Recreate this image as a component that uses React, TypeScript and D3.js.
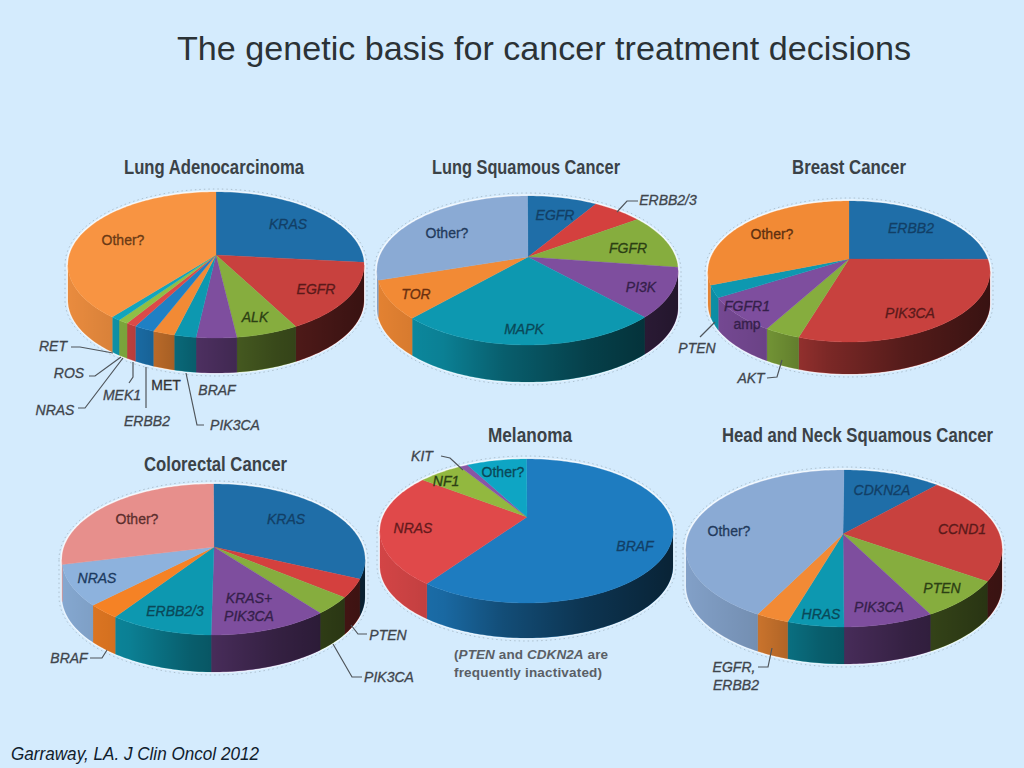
import React from 'react';
import * as d3 from 'd3';

// values, share of each pie in percent, clockwise from 12 o'clock
const adenoNames = ['KRAS', 'EGFR', 'ALK', 'BRAF', 'PIK3CA', 'MET', 'ERBB2', 'MEK1', 'NRAS/ROS', 'RET', 'Other?'];
const adenoValues = [24.4, 16.5, 6.8, 4.4, 2.4, 2.4, 2.2, 1.1, 1.1, 1.0, 37.6];
const squamousNames = ['EGFR', 'ERBB2/3', 'FGFR', 'PI3K', 'MAPK', 'TOR', 'Other?'];
const squamousValues = [7.5, 5.5, 11.3, 11.5, 28.1, 9.0, 27.1];
const breastNames = ['ERBB2', 'PIK3CA', 'AKT', 'FGFR1 amp', 'PTEN', 'Other?'];
const breastValues = [22.2, 33.6, 4.1, 9.0, 3.0, 28.1];
const colorectalNames = ['KRAS', 'PTEN', 'PIK3CA', 'KRAS+PIK3CA', 'ERBB2/3', 'BRAF', 'NRAS', 'Other?'];
const colorectalValues = [29.2, 4.2, 4.2, 12.7, 11.0, 3.4, 9.3, 26.1];
const melanomaNames = ['BRAF', 'NRAS', 'NF1', 'KIT', 'Other?'];
const melanomaValues = [61.9, 25.6, 5.0, 0.9, 6.6];
const headNeckNames = ['CDKN2A', 'CCND1', 'PTEN', 'PIK3CA', 'HRAS', 'EGFR, ERBB2', 'Other?'];
const headNeckValues = [10.0, 21.9, 8.9, 9.2, 5.8, 3.4, 40.8];

const BLUE = '#1f6ea8';
const RED = '#c8413e';
const GREEN = '#86ad3e';
const PURPLE = '#7e4e9e';
const TEAL = '#0d98b0';
const ORANGE = '#f28a35';
const SKY = '#8aaad4';

const adenoColors = [BLUE, RED, GREEN, PURPLE, TEAL, ORANGE, '#1f80c4', '#dc4a48', '#8fbf45', '#12a5bd', '#f89442'];
const squamousColors = [BLUE, '#d4403e', GREEN, PURPLE, TEAL, ORANGE, SKY];
const breastColors = [BLUE, RED, GREEN, PURPLE, TEAL, ORANGE];
const colorectalColors = [BLUE, '#d4403e', GREEN, PURPLE, TEAL, '#f58225', '#8db2dd', '#e78f8c'];
const melanomaColors = ['#1e7cc0', '#e0494a', '#92b83f', '#8a55a5', '#0ea5c4'];
const headNeckColors = [BLUE, RED, GREEN, PURPLE, TEAL, ORANGE, SKY];

type Geom = { cx: number; cy: number; rx: number; ry: number; ax: number; ay: number; depth: number };
type Label = { text: string; x: number; y: number; color?: string; upright?: boolean };
type Pt = [number, number];

const adenoGeom: Geom = { cx: 216, cy: 265, rx: 148, ry: 73, ax: 216, ay: 255, depth: 35 };
const squamousGeom: Geom = { cx: 527.5, cy: 270.5, rx: 150.5, ry: 74.5, ax: 528, ay: 257, depth: 37 };
const breastGeom: Geom = { cx: 849, cy: 271.5, rx: 141, ry: 70.5, ax: 849, ay: 259, depth: 32 };
const colorectalGeom: Geom = { cx: 213.5, cy: 559.5, rx: 151.5, ry: 75.5, ax: 214, ay: 547, depth: 37 };
const melanomaGeom: Geom = { cx: 526.5, cy: 531, rx: 146.5, ry: 72, ax: 527, ay: 517, depth: 35 };
const headNeckGeom: Geom = { cx: 844, cy: 548.5, rx: 158, ry: 78.5, ax: 843, ay: 534, depth: 37 };

const OUTER = '#3f454c';

const adenoLabels: Label[] = [
  { text: 'KRAS', x: 288, y: 224, color: '#123f66' },
  { text: 'EGFR', x: 316, y: 289, color: '#5a1a1a' },
  { text: 'ALK', x: 255, y: 317, color: '#2c3f14' },
  { text: 'Other?', x: 123, y: 240, color: '#6a3a15', upright: true },
  { text: 'RET', x: 53, y: 346 },
  { text: 'ROS', x: 69, y: 373 },
  { text: 'NRAS', x: 55, y: 410 },
  { text: 'MEK1', x: 122, y: 395 },
  { text: 'MET', x: 166, y: 385, color: '#333', upright: true },
  { text: 'BRAF', x: 217, y: 390 },
  { text: 'ERBB2', x: 147, y: 421 },
  { text: 'PIK3CA', x: 235, y: 425 },
];
const squamousLabels: Label[] = [
  { text: 'EGFR', x: 555, y: 215, color: '#123f66' },
  { text: 'ERBB2/3', x: 668, y: 200 },
  { text: 'FGFR', x: 628, y: 248, color: '#2c3f14' },
  { text: 'PI3K', x: 641, y: 287, color: '#35204a' },
  { text: 'MAPK', x: 524, y: 329, color: '#0a4858' },
  { text: 'TOR', x: 416, y: 294, color: '#6a3010' },
  { text: 'Other?', x: 447, y: 233, color: '#223a5c', upright: true },
];
const breastLabels: Label[] = [
  { text: 'ERBB2', x: 911, y: 228, color: '#123f66' },
  { text: 'PIK3CA', x: 910, y: 313, color: '#5a1a1a' },
  { text: 'FGFR1', x: 747, y: 306, color: '#35204a' },
  { text: 'amp', x: 747, y: 324, color: '#35204a', upright: true },
  { text: 'PTEN', x: 697, y: 348 },
  { text: 'AKT', x: 751, y: 378 },
  { text: 'Other?', x: 772, y: 234, color: '#5e3010', upright: true },
];
const colorectalLabels: Label[] = [
  { text: 'KRAS', x: 286, y: 519, color: '#123f66' },
  { text: 'Other?', x: 137, y: 519, color: '#5c2e2c', upright: true },
  { text: 'NRAS', x: 97, y: 578, color: '#1c3a60' },
  { text: 'ERBB2/3', x: 175, y: 611, color: '#0a4858' },
  { text: 'KRAS+', x: 249, y: 598, color: '#35204a' },
  { text: 'PIK3CA', x: 249, y: 616, color: '#35204a' },
  { text: 'BRAF', x: 69, y: 658 },
  { text: 'PTEN', x: 388, y: 635 },
  { text: 'PIK3CA', x: 389, y: 677 },
];
const melanomaLabels: Label[] = [
  { text: 'BRAF', x: 635, y: 546, color: '#123f66' },
  { text: 'NRAS', x: 413, y: 528, color: '#641a1c' },
  { text: 'NF1', x: 446, y: 481, color: '#2c3f14' },
  { text: 'Other?', x: 503, y: 472, color: '#0a4858', upright: true },
  { text: 'KIT', x: 422, y: 456 },
];
const headNeckLabels: Label[] = [
  { text: 'CDKN2A', x: 882, y: 490, color: '#123f66' },
  { text: 'CCND1', x: 962, y: 529, color: '#5a1a1a' },
  { text: 'PTEN', x: 942, y: 588, color: '#2c3f14' },
  { text: 'PIK3CA', x: 879, y: 607, color: '#35204a' },
  { text: 'HRAS', x: 821, y: 614, color: '#0a4858' },
  { text: 'Other?', x: 729, y: 531, color: '#223a5c', upright: true },
  { text: 'EGFR,', x: 734, y: 667 },
  { text: 'ERBB2', x: 736, y: 685 },
];

const adenoLeaders: Pt[][] = [
  [[71, 347], [80, 347], [113, 353]],
  [[89, 376], [95, 376], [121, 357]],
  [[78, 408], [85, 408], [123, 358]],
  [[129, 383], [133, 377], [133, 362]],
  [[146, 408], [146, 367]],
  [[204, 425], [197, 425], [186, 373]],
];
const squamousLeaders: Pt[][] = [[[617, 212], [627, 201], [638, 201]]];
const breastLeaders: Pt[][] = [
  [[700, 337], [715, 322]],
  [[767, 378], [777, 377], [782, 360]],
];
const colorectalLeaders: Pt[][] = [
  [[90, 658], [102, 658], [107, 650]],
  [[367, 634], [358, 634], [351, 625]],
  [[362, 677], [352, 677], [333, 644]],
];
const melanomaLeaders: Pt[][] = [[[441, 456], [450, 458], [463, 470]]];
const headNeckLeaders: Pt[][] = [[[758, 667], [768, 667], [772, 648]]];

const pieLayout = d3.pie<number>().sort(null).value(d => d);
const toPath = d3.line();

function rim(g: Geom, a0: number, a1: number, dy = 0): Pt[] {
  const n = Math.max(2, Math.ceil((a1 - a0) / 0.02));
  return d3.range(n + 1).map(i => {
    const t = a0 + ((a1 - a0) * i) / n;
    return [g.cx + g.rx * Math.sin(t), g.cy - g.ry * Math.cos(t) + dy] as Pt;
  });
}

function wallPath(g: Geom, a0: number, a1: number) {
  const from = Math.max(a0, Math.PI / 2);
  const to = Math.min(a1, (3 * Math.PI) / 2);
  if (from >= to) return null;
  return toPath([...rim(g, from, to), ...rim(g, from, to, g.depth).reverse()]) + 'Z';
}

// the scan leaves a pale fringe with grey specks round every pie
function fringePath(g: Geom) {
  const wide = { ...g, rx: g.rx + 3, ry: g.ry + 3 };
  return toPath([
    ...rim(wide, -Math.PI / 2, Math.PI / 2),
    ...rim(wide, Math.PI / 2, (3 * Math.PI) / 2, g.depth),
  ]) + 'Z';
}

function Pie3D({ id, geom, values, colors, labels, leaders }: {
  id: string; geom: Geom; values: number[]; colors: string[]; labels: Label[]; leaders: Pt[][];
}) {
  const arcs = pieLayout(values);
  const frontWall = wallPath(geom, 0, 2 * Math.PI);
  const outline = toPath(rim(geom, 0, 2 * Math.PI)) + 'Z';
  return (
    <g>
      <defs>
        <linearGradient id={id} x1="0" x2="1" y1="0" y2="0">
          <stop offset="0" stopColor="#000" stopOpacity={0.06} />
          <stop offset="0.22" stopColor="#000" stopOpacity={0.16} />
          <stop offset="0.42" stopColor="#000" stopOpacity={0.38} />
          <stop offset="0.7" stopColor="#000" stopOpacity={0.58} />
          <stop offset="1" stopColor="#000" stopOpacity={0.72} />
        </linearGradient>
      </defs>
      <path d={fringePath(geom)} fill="none" stroke="#7d8a94" strokeOpacity={0.55} strokeWidth={0.8} strokeDasharray="1.5 3" />
      <path d={outline} fill="none" stroke="#fff" strokeOpacity={0.8} strokeWidth={3} />
      <path d={frontWall!} fill="none" stroke="#fff" strokeOpacity={0.7} strokeWidth={2.5} />
      {arcs.map((a, i) => {
        const d = wallPath(geom, a.startAngle, a.endAngle);
        return d && <path key={i} d={d} fill={colors[i]} stroke={colors[i]} strokeWidth={0.3} />;
      })}
      <path d={frontWall!} fill={`url(#${id})`} />
      {arcs.map((a, i) => (
        <path
          key={i}
          d={toPath([[geom.ax, geom.ay], ...rim(geom, a.startAngle, a.endAngle)]) + 'Z'}
          fill={colors[i]}
          stroke={colors[i]}
          strokeWidth={0.3}
        />
      ))}
      {leaders.map((pts, i) => (
        <path key={i} d={toPath(pts)!} fill="none" stroke="#4f555b" strokeWidth={1.2} />
      ))}
      {labels.map((l, i) => (
        <text
          key={i}
          x={l.x}
          y={l.y}
          dy="0.36em"
          textAnchor="middle"
          fontSize={14}
          fontStyle={l.upright ? 'normal' : 'italic'}
          fill={l.color ?? OUTER}
          stroke={l.color ?? OUTER}
          strokeWidth={0.3}
        >
          {l.text}
        </text>
      ))}
    </g>
  );
}

const pieTitles = [
  { text: 'Lung Adenocarcinoma', x: 124, y: 167, w: 180 },
  { text: 'Lung Squamous Cancer', x: 432, y: 167, w: 188 },
  { text: 'Breast Cancer', x: 792, y: 167, w: 114 },
  { text: 'Colorectal Cancer', x: 144, y: 464, w: 143 },
  { text: 'Melanoma', x: 488, y: 435, w: 84 },
  { text: 'Head and Neck Squamous Cancer', x: 722, y: 435, w: 271 },
];
const TITLE_SQUEEZE = 0.84;

const pies = [
  { id: 'adeno', geom: adenoGeom, values: adenoValues, colors: adenoColors, labels: adenoLabels, leaders: adenoLeaders },
  { id: 'squamous', geom: squamousGeom, values: squamousValues, colors: squamousColors, labels: squamousLabels, leaders: squamousLeaders },
  { id: 'breast', geom: breastGeom, values: breastValues, colors: breastColors, labels: breastLabels, leaders: breastLeaders },
  { id: 'colorectal', geom: colorectalGeom, values: colorectalValues, colors: colorectalColors, labels: colorectalLabels, leaders: colorectalLeaders },
  { id: 'melanoma', geom: melanomaGeom, values: melanomaValues, colors: melanomaColors, labels: melanomaLabels, leaders: melanomaLeaders },
  { id: 'headneck', geom: headNeckGeom, values: headNeckValues, colors: headNeckColors, labels: headNeckLabels, leaders: headNeckLeaders },
];

export default function App() {
  return (
    <svg
      width={1024}
      height={768}
      style={{ position: 'absolute', left: 0, top: 0, fontFamily: '"Liberation Sans", Arial, sans-serif' }}
    >
      <rect width={1024} height={768} fill="#d4ebfd" />
      <text x={177} y={60} fontSize={33} fill="#2b3236" textLength={734} lengthAdjust="spacingAndGlyphs">
        The genetic basis for cancer treatment decisions
      </text>
      {pieTitles.map(t => (
        <text
          key={t.text}
          transform={`translate(${t.x},${t.y}) scale(${TITLE_SQUEEZE},1)`}
          dy="0.36em"
          fontSize={20}
          fontWeight="bold"
          fill="#3b4247"
          textLength={t.w / TITLE_SQUEEZE}
          lengthAdjust="spacingAndGlyphs"
        >
          {t.text}
        </text>
      ))}
      {pies.map(p => (
        <Pie3D key={p.id} {...p} />
      ))}
      <text x={454} y={654} dy="0.36em" fontSize={13.5} fontWeight="bold" fill="#5a5f66" textLength={154}>
        (<tspan fontStyle="italic">PTEN</tspan> and <tspan fontStyle="italic">CDKN2A</tspan> are
      </text>
      <text x={454} y={672} dy="0.36em" fontSize={13.5} fontWeight="bold" fill="#5a5f66" textLength={148}>
        frequently inactivated)
      </text>
      <text x={11} y={760} fontSize={18} fontStyle="italic" fill="#10202c" textLength={248} lengthAdjust="spacingAndGlyphs">
        Garraway, LA. J Clin Oncol 2012
      </text>
    </svg>
  );
}
